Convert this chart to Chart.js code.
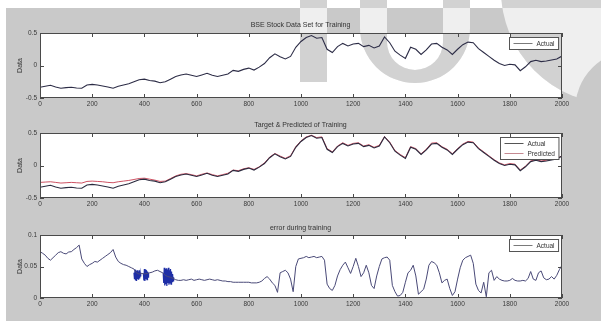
<!DOCTYPE html>
<html>
<head>
<meta charset="utf-8">
<script src="https://cdn.jsdelivr.net/npm/chart.js@4.4.0/dist/chart.umd.min.js"></script>
<style>
  body { margin: 0; background: #fff; }
  #fig { position: relative; width: 601px; height: 321px; overflow: hidden; }
  canvas { position: absolute; left: 0; }
</style>
</head>
<body>
<div id="fig">
  <canvas id="c1" width="601" height="110" style="top:0px"></canvas>
  <canvas id="c2" width="601" height="103" style="top:110px"></canvas>
  <canvas id="c3" width="601" height="108" style="top:213px"></canvas>
</div>
<script>
// BSE index (normalised), sampled every 20 steps from 0 to 2000
const bse = [
  -0.335,-0.32,-0.305,-0.33,-0.35,-0.34,-0.335,-0.345,-0.35,-0.30,
  -0.29,-0.30,-0.315,-0.33,-0.35,-0.32,-0.30,-0.28,-0.25,-0.22,
  -0.21,-0.23,-0.24,-0.265,-0.25,-0.21,-0.17,-0.145,-0.13,-0.15,
  -0.17,-0.145,-0.12,-0.15,-0.17,-0.15,-0.13,-0.075,-0.09,-0.06,
  -0.04,-0.07,-0.025,0.03,0.12,0.18,0.135,0.10,0.14,0.28,
  0.37,0.43,0.46,0.42,0.43,0.25,0.20,0.29,0.34,0.30,
  0.33,0.34,0.29,0.31,0.27,0.30,0.44,0.35,0.22,0.16,
  0.11,0.28,0.25,0.17,0.24,0.33,0.34,0.28,0.24,0.17,
  0.25,0.32,0.36,0.35,0.26,0.20,0.14,0.08,0.03,0.0,
  0.02,0.01,-0.08,-0.02,0.06,0.08,0.06,0.07,0.085,0.10,
  0.145
];

// network output, same sampling
const predicted = [
  -0.26,-0.255,-0.25,-0.26,-0.27,-0.265,-0.26,-0.265,-0.27,-0.245,
  -0.24,-0.245,-0.25,-0.26,-0.265,-0.25,-0.24,-0.23,-0.215,-0.20,
  -0.195,-0.21,-0.225,-0.245,-0.24,-0.20,-0.16,-0.135,-0.125,-0.14,
  -0.16,-0.135,-0.115,-0.14,-0.16,-0.14,-0.12,-0.07,-0.08,-0.05,
  -0.035,-0.06,-0.02,0.04,0.13,0.185,0.145,0.11,0.15,0.29,
  0.38,0.44,0.465,0.43,0.44,0.26,0.21,0.30,0.35,0.31,
  0.34,0.35,0.30,0.32,0.28,0.31,0.445,0.36,0.23,0.17,
  0.12,0.29,0.26,0.18,0.25,0.345,0.35,0.29,0.25,0.18,
  0.26,0.33,0.37,0.36,0.27,0.21,0.15,0.09,0.04,0.01,
  0.03,0.02,-0.07,-0.01,0.07,0.09,0.07,0.08,0.095,0.11,
  0.15
];

// training error, sampled every 10 steps
const trainErr = [
  0.0735,0.071,0.068,0.063,0.060,0.064,0.068,0.072,0.0735,0.071,
  0.070,0.073,0.0735,0.077,0.080,0.084,0.062,0.055,0.050,0.053,
  0.055,0.058,0.057,0.060,0.063,0.066,0.069,0.072,0.077,0.065,
  0.058,0.055,0.053,0.052,0.050,0.048,0.046,0.040,0.038,0.039,
  0.038,0.039,0.040,0.041,0.043,0.044,0.042,0.040,0.036,0.034,
  0.033,0.031,0.029,0.028,0.028,0.029,0.028,0.029,0.030,0.028,
  0.029,0.030,0.029,0.028,0.029,0.030,0.029,0.028,0.029,0.028,
  0.027,0.027,0.026,0.026,0.025,0.025,0.025,0.025,0.025,0.025,
  0.025,0.024,0.024,0.024,0.025,0.027,0.031,0.034,0.030,0.024,
  0.020,0.009,0.040,0.042,0.044,0.040,0.030,0.010,0.050,0.062,
  0.063,0.064,0.066,0.064,0.065,0.066,0.064,0.065,0.066,0.060,
  0.022,0.015,0.012,0.020,0.035,0.045,0.052,0.057,0.048,0.039,
  0.050,0.063,0.050,0.034,0.040,0.052,0.040,0.020,0.015,0.035,
  0.050,0.062,0.064,0.065,0.060,0.020,0.010,0.003,0.004,0.009,
  0.025,0.040,0.044,0.052,0.035,0.006,0.010,0.014,0.030,0.052,
  0.058,0.056,0.052,0.040,0.024,0.028,0.030,0.015,0.004,0.010,
  0.030,0.048,0.060,0.064,0.066,0.068,0.055,0.022,0.012,0.008,
  0.025,0.002,0.040,0.044,0.028,0.034,0.030,0.028,0.027,0.027,
  0.028,0.031,0.028,0.027,0.027,0.028,0.027,0.031,0.042,0.030,
  0.028,0.040,0.043,0.032,0.029,0.030,0.034,0.030,0.036,0.045,
  0.052
];

// fast oscillation bursts in the error, every 2 steps
const burstA = [0.040,0.030,0.045,0.028,0.043,0.027,0.044,0.030,0.042,0.029,0.044,0.031,0.040,0.034]; // from 360
const burstB = [0.039,0.028,0.046,0.027,0.045,0.030,0.044,0.029,0.042,0.033,0.040];               // from 396
const burstC = [0.040,0.024,0.048,0.020,0.046,0.022,0.047,0.019,0.045,0.024,0.048,0.021,0.044,0.023,0.046,0.022,0.042,0.026,0.038,0.027,0.033]; // from 472

const xTicks = [0, 200, 400, 600, 800, 1000, 1200, 1400, 1600, 1800, 2000];

const BG = '#c9c9c9';
const WM_ON_GRAY = '#efefef';
const WM_ON_WHITE = '#d2d2d2';
const FONT = '"Liberation Sans", Arial, sans-serif';

Chart.defaults.font.family = FONT;
Chart.defaults.color = '#3a3a3a';

function pts(ys, step, start) {
  return ys.map((y, i) => ({ x: (start || 0) + i * step, y: y }));
}

// watermark letters from the scanned page (only over the top panel)
function shade(chart, clipFn) {
  const { ctx, width, height, chartArea: a } = chart;
  ctx.save();
  clipFn(ctx);
  ctx.fillStyle = WM_ON_GRAY;
  ctx.fillRect(0, 0, width, height);
  ctx.fillStyle = WM_ON_WHITE;
  ctx.fillRect(0, 0, width, 8);
  ctx.fillRect(0, 0, 6, height);
  ctx.fillRect(a.left, a.top, a.right - a.left, a.bottom - a.top);
  ctx.restore();
}

function drawWatermark(chart) {
  const { width, height } = chart;
  shade(chart, ctx => { ctx.beginPath(); ctx.rect(300, 0, 27, 82); ctx.clip(); });
  shade(chart, ctx => {
    ctx.beginPath();
    ctx.moveTo(360, 0); ctx.lineTo(360, 28);
    ctx.arc(415, 28, 55, Math.PI, 0, true);
    ctx.lineTo(470, 0); ctx.lineTo(443, 0); ctx.lineTo(443, 42);
    ctx.arc(415, 42, 28, 0, Math.PI, false);
    ctx.lineTo(387, 0); ctx.closePath();
    ctx.clip();
  });
  shade(chart, ctx => {
    ctx.beginPath(); ctx.arc(615, -10, 114, 0, Math.PI * 2); ctx.clip();
    ctx.beginPath(); ctx.rect(0, 0, width, height); ctx.arc(635, 110, 60, 0, Math.PI * 2); ctx.clip('evenodd');
  });
}

const figPlugin = {
  id: 'fig',
  beforeDraw(chart, args, opts) {
    const { ctx, width, height, chartArea: a } = chart;
    ctx.save();
    ctx.fillStyle = '#fff';
    ctx.fillRect(0, 0, width, height);
    ctx.fillStyle = BG;
    ctx.fillRect(6, opts.top || 0, width - 6, height);
    ctx.fillStyle = '#fff';
    ctx.fillRect(a.left, a.top, a.right - a.left, a.bottom - a.top);
    ctx.restore();
    if (opts.watermark) drawWatermark(chart);
  },
  afterDraw(chart) {
    const { ctx, chartArea: a, scales } = chart;
    ctx.save();
    ctx.strokeStyle = '#4a4a4a';
    ctx.lineWidth = 1;
    ctx.strokeRect(a.left + 0.5, a.top + 0.5, a.right - a.left - 1, a.bottom - a.top - 1);
    ctx.beginPath();
    scales.x.ticks.forEach(t => {
      const px = Math.round(scales.x.getPixelForValue(t.value)) + 0.5;
      ctx.moveTo(px, a.bottom); ctx.lineTo(px, a.bottom - 4);
      ctx.moveTo(px, a.top); ctx.lineTo(px, a.top + 4);
    });
    scales.y.ticks.forEach(t => {
      const py = Math.round(scales.y.getPixelForValue(t.value)) + 0.5;
      ctx.moveTo(a.left, py); ctx.lineTo(a.left + 4, py);
      ctx.moveTo(a.right, py); ctx.lineTo(a.right - 4, py);
    });
    ctx.stroke();

    // legend box, top right inside the axes
    const items = chart.data.datasets.filter(d => d.label);
    ctx.font = '6.5px ' + FONT;
    const tw = Math.max(...items.map(d => ctx.measureText(d.label).width));
    const rowH = 10;
    const w = 4 + 19 + 4 + tw + 4;
    const h = items.length * rowH + 2;
    const x0 = Math.round(a.right - 4 - w) + 0.5;
    const y0 = Math.round(a.top + 4) + 0.5;
    ctx.fillStyle = '#fff';
    ctx.fillRect(x0, y0, w, h);
    ctx.strokeStyle = '#555';
    ctx.strokeRect(x0, y0, w, h);
    ctx.textBaseline = 'middle';
    ctx.textAlign = 'left';
    items.forEach((d, i) => {
      const cy = y0 + 1 + rowH * i + rowH / 2;
      ctx.strokeStyle = d.legendColor || d.borderColor;
      ctx.lineWidth = 1;
      ctx.beginPath();
      ctx.moveTo(x0 + 4, cy); ctx.lineTo(x0 + 23, cy);
      ctx.stroke();
      ctx.fillStyle = '#333';
      ctx.fillText(d.label, x0 + 27, cy + 0.5);
    });
    ctx.restore();
  }
};

function panel(id, p) {
  return new Chart(document.getElementById(id), {
    type: 'line',
    data: { datasets: p.datasets },
    plugins: [figPlugin],
    options: {
      responsive: false,
      animation: false,
      events: [],
      layout: { padding: { left: 0, right: 0, top: 0, bottom: p.padBottom } },
      elements: { point: { radius: 0 }, line: { tension: 0 } },
      plugins: {
        legend: { display: false },
        tooltip: { enabled: false },
        fig: { top: p.whiteTop, watermark: p.watermark },
        title: {
          display: true, text: p.title, color: '#333',
          font: { size: 7, weight: 'normal' },
          padding: { top: p.titleTop, bottom: p.titleBottom }
        }
      },
      scales: {
        x: {
          type: 'linear', min: 0, max: 2000,
          afterFit: s => { s.height = 12; },
          afterBuildTicks: s => { s.ticks = xTicks.map(v => ({ value: v })); },
          grid: { display: false, drawTicks: false }, border: { display: false },
          ticks: { padding: 2, font: { size: 6.5 }, maxRotation: 0, autoSkip: false, callback: v => String(v) }
        },
        y: {
          min: p.yMin, max: p.yMax,
          afterFit: s => { s.width = 40; },
          grid: { display: false, drawTicks: false }, border: { display: false },
          ticks: { stepSize: p.yStep, padding: 3, font: { size: 6.5 }, callback: v => String(+v.toFixed(3)) },
          title: { display: true, text: 'Data', color: '#333', font: { size: 7 }, padding: { top: 16, bottom: 0 } }
        },
        yr: {
          position: 'right', min: p.yMin, max: p.yMax,
          afterFit: s => { s.width = 39; },
          grid: { display: false, drawTicks: false }, border: { display: false },
          ticks: { display: false }
        }
      }
    }
  });
}

panel('c1', {
  title: 'BSE Stock Data Set for Training',
  yMin: -0.5, yMax: 0.5, yStep: 0.5,
  titleTop: 21, titleBottom: 3.6, padBottom: 0, whiteTop: 8, watermark: true,
  datasets: [
    { label: 'Actual', data: pts(bse, 20), borderColor: '#2c2c46', borderWidth: 1.1, legendColor: '#7a7a7a' }
  ]
});

panel('c2', {
  title: 'Target & Predicted of Training',
  yMin: -0.5, yMax: 0.5, yStep: 0.5,
  titleTop: 10.8, titleBottom: 3.8, padBottom: 3, whiteTop: 0,
  datasets: [
    { label: 'Actual', data: pts(bse, 20), borderColor: '#2a2a3e', borderWidth: 1.1, legendColor: '#555' },
    { label: 'Predicted', data: pts(predicted, 20), borderColor: 'rgba(196,52,72,0.85)', borderWidth: 1, legendColor: '#c58a92' }
  ]
});

panel('c3', {
  title: 'error during training',
  yMin: 0, yMax: 0.1, yStep: 0.05,
  titleTop: 10.8, titleBottom: 2.8, padBottom: 11, whiteTop: 0,
  datasets: [
    { label: 'Actual', data: pts(trainErr, 10), borderColor: '#4a4a78', borderWidth: 1, legendColor: '#7a7a7a' },
    { data: pts(burstA, 2, 360), borderColor: '#1e2ea6', borderWidth: 1.2 },
    { data: pts(burstB, 2, 396), borderColor: '#1e2ea6', borderWidth: 1.2 },
    { data: pts(burstC, 2, 472), borderColor: '#1e2ea6', borderWidth: 1.2 }
  ]
});
</script>
</body>
</html>
